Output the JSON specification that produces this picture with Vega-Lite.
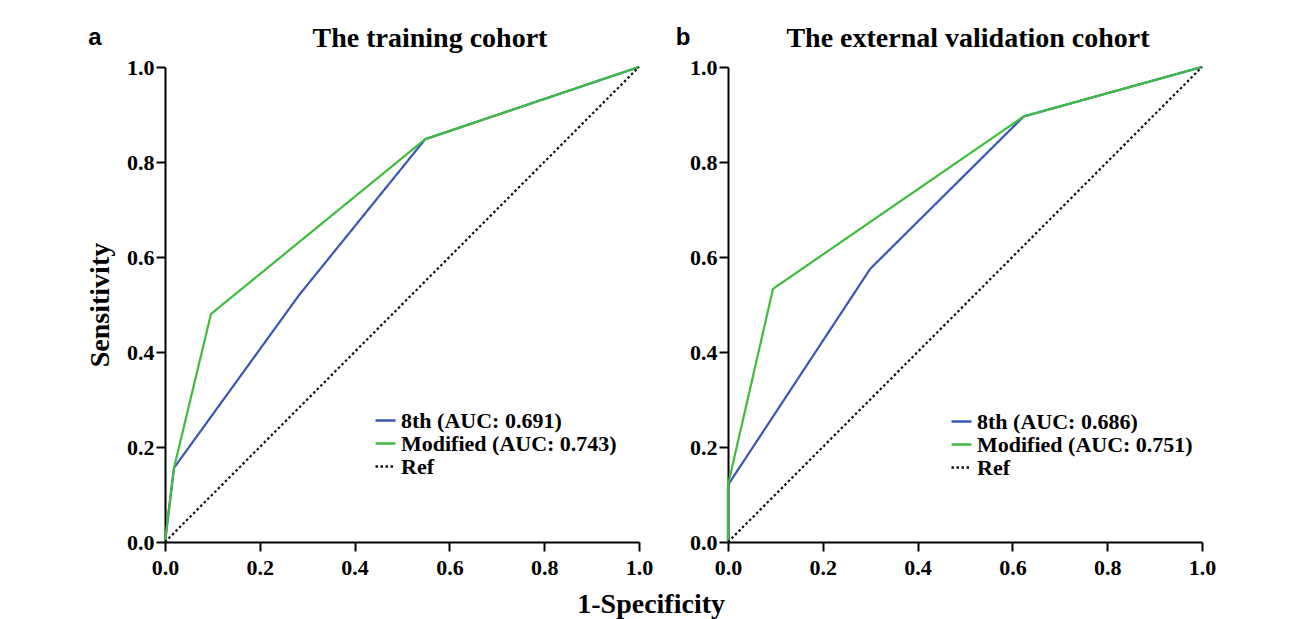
{
  "$schema": "https://vega.github.io/schema/vega-lite/v6.json",
  "background": "white",
  "padding": {"left": 86, "top": 25, "right": 5, "bottom": 5},
  "title": {"text": "1-Specificity", "orient": "bottom", "anchor": "middle", "font": "Liberation Serif", "fontSize": 28, "fontWeight": "bold", "color": "black", "offset": 13},
  "datasets": {
    "roc": [
      {"panel": "a", "label": "8th (AUC: 0.691)", "o": 1, "x": 0, "y": 0},
      {"panel": "a", "label": "8th (AUC: 0.691)", "o": 2, "x": 0.019, "y": 0.156},
      {"panel": "a", "label": "8th (AUC: 0.691)", "o": 3, "x": 0.283, "y": 0.52},
      {"panel": "a", "label": "8th (AUC: 0.691)", "o": 4, "x": 0.549, "y": 0.848},
      {"panel": "a", "label": "8th (AUC: 0.691)", "o": 5, "x": 1, "y": 1},
      {"panel": "a", "label": "Modified (AUC: 0.743)", "o": 1, "x": 0, "y": 0},
      {"panel": "a", "label": "Modified (AUC: 0.743)", "o": 2, "x": 0.019, "y": 0.156},
      {"panel": "a", "label": "Modified (AUC: 0.743)", "o": 3, "x": 0.097, "y": 0.48},
      {"panel": "a", "label": "Modified (AUC: 0.743)", "o": 4, "x": 0.549, "y": 0.848},
      {"panel": "a", "label": "Modified (AUC: 0.743)", "o": 5, "x": 1, "y": 1},
      {"panel": "a", "label": "Ref", "o": 1, "x": 0, "y": 0},
      {"panel": "a", "label": "Ref", "o": 2, "x": 1, "y": 1},
      {"panel": "b", "label": "8th (AUC: 0.686)", "o": 1, "x": 0, "y": 0},
      {"panel": "b", "label": "8th (AUC: 0.686)", "o": 2, "x": 0, "y": 0.12},
      {"panel": "b", "label": "8th (AUC: 0.686)", "o": 3, "x": 0.30, "y": 0.575},
      {"panel": "b", "label": "8th (AUC: 0.686)", "o": 4, "x": 0.624, "y": 0.896},
      {"panel": "b", "label": "8th (AUC: 0.686)", "o": 5, "x": 1, "y": 1},
      {"panel": "b", "label": "Modified (AUC: 0.751)", "o": 1, "x": 0, "y": 0},
      {"panel": "b", "label": "Modified (AUC: 0.751)", "o": 2, "x": 0, "y": 0.12},
      {"panel": "b", "label": "Modified (AUC: 0.751)", "o": 3, "x": 0.095, "y": 0.533},
      {"panel": "b", "label": "Modified (AUC: 0.751)", "o": 4, "x": 0.624, "y": 0.896},
      {"panel": "b", "label": "Modified (AUC: 0.751)", "o": 5, "x": 1, "y": 1},
      {"panel": "b", "label": "Ref", "o": 1, "x": 0, "y": 0},
      {"panel": "b", "label": "Ref", "o": 2, "x": 1, "y": 1}
    ]
  },
  "spacing": 22,
  "hconcat": [
    {
      "width": 474,
      "height": 475,
      "title": {"text": "The training cohort", "dx": 28, "offset": -27},
      "layer": [
        {
          "data": {"name": "roc"},
          "transform": [{"filter": "datum.panel === 'a'"}],
          "mark": {"type": "line", "strokeWidth": 2.2, "clip": false},
          "encoding": {
            "x": {"field": "x", "type": "quantitative", "scale": {"domain": [0, 1]}, "axis": {"title": null, "values": [0, 0.2, 0.4, 0.6, 0.8, 1], "format": ".1f"}},
            "y": {"field": "y", "type": "quantitative", "scale": {"domain": [0, 1]}, "axis": {"title": "Sensitivity", "values": [0, 0.2, 0.4, 0.6, 0.8, 1], "format": ".1f"}},
            "order": {"field": "o", "type": "quantitative"},
            "color": {"field": "label", "type": "nominal", "scale": {"domain": ["8th (AUC: 0.691)", "Modified (AUC: 0.743)", "Ref"], "range": ["#3B55B5", "#3DBC3D", "#111111"]}, "legend": {"title": null, "orient": "none", "legendX": 209, "legendY": 342}},
            "strokeDash": {"field": "label", "type": "nominal", "scale": {"domain": ["8th (AUC: 0.691)", "Modified (AUC: 0.743)", "Ref"], "range": [[1, 0], [1, 0], [2.5, 2.5]]}, "legend": {"title": null, "orient": "none", "legendX": 209, "legendY": 342}}
          }
        },
        {
          "data": {"values": [{"t": "a", "x": -0.162, "y": 1.046}]},
          "mark": {"type": "text", "font": "Liberation Sans", "fontSize": 24, "fontWeight": "bold", "color": "black", "align": "left", "baseline": "alphabetic"},
          "encoding": {
            "x": {"field": "x", "type": "quantitative"},
            "y": {"field": "y", "type": "quantitative"},
            "text": {"field": "t"}
          }
        }
      ]
    },
    {
      "width": 474,
      "height": 475,
      "title": {"text": "The external validation cohort", "dx": 3, "offset": -27},
      "layer": [
        {
          "data": {"name": "roc"},
          "transform": [{"filter": "datum.panel === 'b'"}],
          "mark": {"type": "line", "strokeWidth": 2.2, "clip": false},
          "encoding": {
            "x": {"field": "x", "type": "quantitative", "scale": {"domain": [0, 1]}, "axis": {"title": null, "values": [0, 0.2, 0.4, 0.6, 0.8, 1], "format": ".1f"}},
            "y": {"field": "y", "type": "quantitative", "scale": {"domain": [0, 1]}, "axis": {"title": null, "values": [0, 0.2, 0.4, 0.6, 0.8, 1], "format": ".1f"}},
            "order": {"field": "o", "type": "quantitative"},
            "color": {"field": "label", "type": "nominal", "scale": {"domain": ["8th (AUC: 0.686)", "Modified (AUC: 0.751)", "Ref"], "range": ["#3B55B5", "#3DBC3D", "#111111"]}, "legend": {"title": null, "orient": "none", "legendX": 222, "legendY": 343}},
            "strokeDash": {"field": "label", "type": "nominal", "scale": {"domain": ["8th (AUC: 0.686)", "Modified (AUC: 0.751)", "Ref"], "range": [[1, 0], [1, 0], [2.5, 2.5]]}, "legend": {"title": null, "orient": "none", "legendX": 222, "legendY": 343}}
          }
        },
        {
          "data": {"values": [{"t": "b", "x": -0.11, "y": 1.046}]},
          "mark": {"type": "text", "font": "Liberation Sans", "fontSize": 24, "fontWeight": "bold", "color": "black", "align": "left", "baseline": "alphabetic"},
          "encoding": {
            "x": {"field": "x", "type": "quantitative"},
            "y": {"field": "y", "type": "quantitative"},
            "text": {"field": "t"}
          }
        }
      ]
    }
  ],
  "resolve": {"scale": {"color": "independent", "strokeDash": "independent", "x": "independent", "y": "independent"}, "legend": {"color": "independent", "strokeDash": "independent"}},
  "config": {
    "view": {"stroke": null},
    "title": {"font": "Liberation Serif", "fontSize": 28, "fontWeight": "bold", "color": "black", "anchor": "middle"},
    "axis": {"domainColor": "black", "domainWidth": 2, "tickColor": "black", "tickWidth": 2, "tickSize": 9, "labelFont": "Liberation Serif", "labelFontSize": 22, "labelFontWeight": "bold", "labelColor": "black", "titleFont": "Liberation Serif", "titleFontSize": 28, "titleFontWeight": "bold", "titleColor": "black", "grid": false, "labelFlush": false},
    "axisX": {"labelPadding": 6},
    "axisY": {"labelPadding": 2, "titlePadding": 12},
    "legend": {"symbolType": "stroke", "symbolSize": 400, "symbolStrokeWidth": 2.5, "labelFont": "Liberation Serif", "labelFontSize": 22, "labelFontWeight": "bold", "labelColor": "black", "labelLimit": 400, "rowPadding": -10, "labelOffset": 4, "padding": 0}
  }
}
